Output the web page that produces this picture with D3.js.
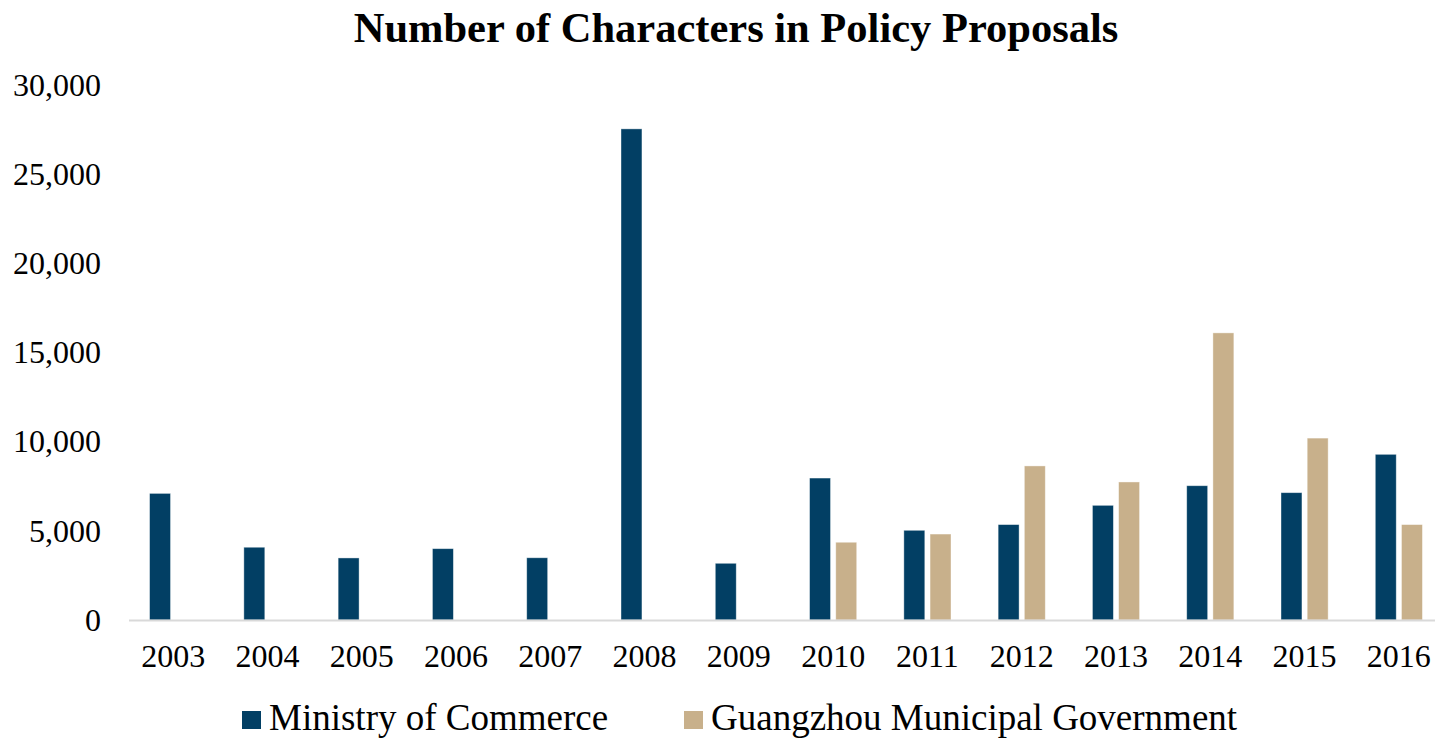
<!DOCTYPE html>
<html lang="en">
<head>
<meta charset="UTF-8">
<title>Number of Characters in Policy Proposals</title>
<style>
    body { margin: 0; background: #fff; }
    svg { display: block; font-family: "Liberation Serif", "Times New Roman", serif; }
    .axis text { font-family: "Liberation Serif", "Times New Roman", serif; font-size: 32px; fill: #000; }
</style>
</head>
<body>
<script src="https://cdn.jsdelivr.net/npm/d3@7"></script>
<script>
    // data
    var years = ['2003', '2004', '2005', '2006', '2007', '2008', '2009',
                 '2010', '2011', '2012', '2013', '2014', '2015', '2016']
    var seriesNames = ['Ministry of Commerce', 'Guangzhou Municipal Government']
    var commerce = [7100, 4080, 3480, 4000, 3490, 27540, 3180,
                    7960, 5030, 5350, 6430, 7530, 7140, 9290]
    var guangzhou = [null, null, null, null, null, null, null,
                     4360, 4820, 8640, 7740, 16100, 10200, 5350]
    var yTicks = [0, 5000, 10000, 15000, 20000, 25000, 30000]
    var colors = ['#023f64', '#c8b08b']

    var width = 1435, height = 739

    var svg = d3.select('body').append('svg')
        .attr('width', width)
        .attr('height', height)

    // scales
    var x0 = d3.scaleBand()
        .domain(years)
        .range([126, 1446])
        .paddingInner(0.5)
        .paddingOuter(0.25)

    var x1 = d3.scaleBand()
        .domain([0, 1])
        .range([0, x0.bandwidth()])
        .paddingInner(0.2)

    var y = d3.scaleLinear()
        .domain([0, 30000])
        .range([620, 85])

    // title
    svg.append('text')
        .attr('x', 736)
        .attr('y', 42)
        .attr('text-anchor', 'middle')
        .style('font-size', '42.5px')
        .style('font-weight', 'bold')
        .text('Number of Characters in Policy Proposals')

    // y axis (labels only)
    var yAxis = d3.axisLeft(y)
        .tickValues(yTicks)
        .tickFormat(d3.format(','))
        .tickSize(0)
        .tickPadding(0)
    svg.append('g')
        .attr('class', 'axis')
        .attr('transform', 'translate(101,0)')
        .call(yAxis)
        .call(g => g.select('.domain').remove())

    // bars
    var rows = years.map((yr, i) => ({ year: yr, vals: [commerce[i], guangzhou[i]] }))
    var groups = svg.selectAll('.grp')
        .data(rows)
        .enter()
        .append('g')
        .attr('class', 'grp')
        .attr('transform', d => 'translate(' + x0(d.year) + ',0)')

    groups.selectAll('rect')
        .data(d => d.vals.map((v, k) => ({ k: k, v: v })).filter(e => e.v != null))
        .enter()
        .append('rect')
        .attr('x', d => x1(d.k))
        .attr('y', d => y(d.v))
        .attr('width', x1.bandwidth())
        .attr('height', d => y(0) - y(d.v))
        .attr('fill', d => colors[d.k])
        .attr('stroke', '#ffffff')
        .attr('stroke-opacity', 0.5)
        .attr('stroke-width', 0.8)

    // x axis
    var xAxis = d3.axisBottom(x0).tickSize(0).tickPadding(24)
    var gx = svg.append('g')
        .attr('class', 'axis')
        .attr('transform', 'translate(0,' + y(0) + ')')
        .call(xAxis)
    gx.select('.domain').remove()
    gx.selectAll('text').attr('dy', '0.71em')
    svg.append('line')
        .attr('x1', 129)
        .attr('x2', width)
        .attr('y1', y(0) + 0.5)
        .attr('y2', y(0) + 0.5)
        .attr('stroke', '#d9d9d9')
        .attr('stroke-width', 2)

    // legend
    var legendX = [242, 684]
    var legend = svg.selectAll('.legend')
        .data(seriesNames)
        .enter()
        .append('g')
        .attr('class', 'legend')
        .attr('transform', (d, i) => 'translate(' + legendX[i] + ',711)')
    legend.append('rect')
        .attr('width', 19)
        .attr('height', 18)
        .attr('fill', (d, i) => colors[i])
    legend.append('text')
        .attr('x', 27)
        .attr('y', 19)
        .style('font-size', '37px')
        .text(d => d)
</script>
</body>
</html>
